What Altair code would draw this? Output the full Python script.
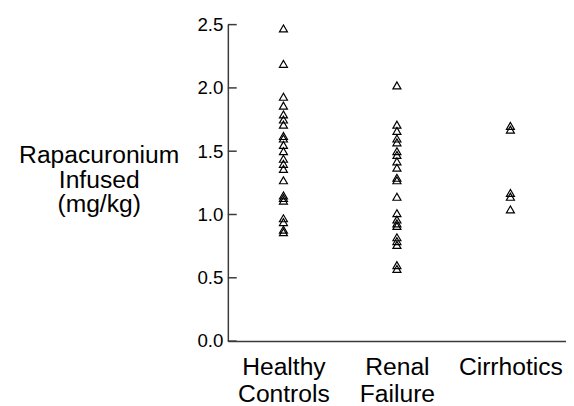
import altair as alt
import pandas as pd

groups = ["Healthy Controls", "Renal Failure", "Cirrhotics"]

healthy = [2.47, 2.19, 1.93, 1.86, 1.79, 1.75, 1.71, 1.62, 1.60, 1.55, 1.50,
           1.44, 1.40, 1.36, 1.27, 1.15, 1.13, 1.11, 0.97, 0.94, 0.88, 0.86]
renal = [2.02, 1.71, 1.66, 1.60, 1.57, 1.50, 1.47, 1.42, 1.37, 1.29, 1.27,
         1.14, 1.01, 0.96, 0.93, 0.91, 0.82, 0.79, 0.76, 0.60, 0.57]
cirrhotics = [1.70, 1.67, 1.17, 1.14, 1.04]

y_ticks = [0.0, 0.5, 1.0, 1.5, 2.0, 2.5]
y_title = ["Rapacuronium", "Infused", "(mg/kg)"]

rows = []
for g, vals in zip(groups, [healthy, renal, cirrhotics]):
    for v in vals:
        rows.append({"group": g, "value": v})
df = pd.DataFrame(rows)
ticks_df = pd.DataFrame({"tick": y_ticks})

FONT = "Liberation Sans"
AX = "#3a3a3a"

yscale = alt.Scale(domain=[0, 2.5], nice=False, zero=True)
yaxis = alt.Axis(values=y_ticks, format=".1f", ticks=False,
                 labelPadding=5, labelFontSize=19, labelColor="black",
                 labelFont=FONT, grid=False,
                 domainColor=AX, domainWidth=1.5,
                 title=y_title, titleAngle=0, titleAlign="center",
                 titleBaseline="alphabetic", titleX=-131, titleY=140,
                 titleFontSize=25, titleFontWeight="normal",
                 titleLineHeight=25, titleFont=FONT, titleColor="black")

points = alt.Chart(df).mark_point(
    shape="triangle-up", filled=False, color="black", size=66, strokeWidth=1.2,
    opacity=1
).encode(
    x=alt.X("group:N", sort=groups,
            scale=alt.Scale(type="point", padding=0.49),
            axis=alt.Axis(title=None, labelAngle=0, labelFontSize=25,
                          labelLineHeight=27, labelPadding=14, ticks=False,
                          labelExpr="split(datum.label, ' ')",
                          labelColor="black", labelFont=FONT, grid=False,
                          domainColor=AX, domainWidth=1.5)),
    y=alt.Y("value:Q", scale=yscale, axis=yaxis),
)

tick_marks = alt.Chart(ticks_df).mark_rule(
    color=AX, strokeWidth=1.5
).encode(
    y=alt.Y("tick:Q", scale=yscale, axis=yaxis),
    x=alt.value(0),
    x2=alt.value(9),
)

chart = alt.layer(points, tick_marks).properties(
    width=343,
    height=321,
    autosize=alt.AutoSizeParams(type="none"),
    padding={"left": 223, "top": 14, "right": 0, "bottom": 63},
).configure(font=FONT, background="white").configure_view(
    strokeWidth=0, stroke="transparent").configure_axis(grid=False)

chart.save("out.html", embed_options={"renderer": "svg", "actions": False})
